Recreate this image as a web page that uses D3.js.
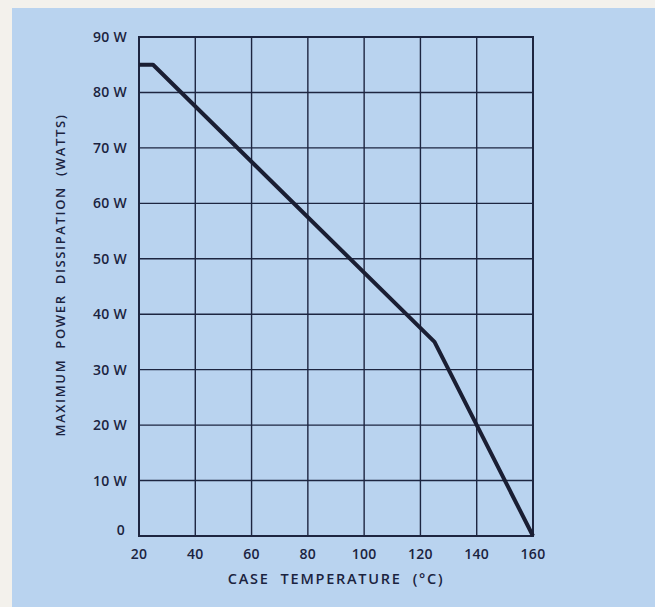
<!DOCTYPE html>
<html>
<head>
<meta charset="utf-8">
<script src="https://cdn.jsdelivr.net/npm/d3@7"></script>
<style>
  html, body { margin: 0; padding: 0; background: #f3f1ec; }
  svg { display: block; }
  text { font-family: "Open Sans", Lato, sans-serif; font-weight: 600; fill: #1b2340; }
</style>
</head>
<body>
<div id="chart"></div>
<script>
// derating curve
var temps = [20, 25, 125, 160]
var watts = [85, 85, 35, 0]

var xTicks = [20, 40, 60, 80, 100, 120, 140, 160]
var yTicks = [0, 10, 20, 30, 40, 50, 60, 70, 80, 90]
var yTickLabels = ['0', '10 W', '20 W', '30 W', '40 W', '50 W', '60 W', '70 W', '80 W', '90 W']

var xTitle = 'CASE  TEMPERATURE  (°C)'
var yTitle = 'MAXIMUM  POWER  DISSIPATION  (WATTS)'

var width = 655, height = 607
var margin = {left: 139, right: 122, top: 37, bottom: 71}
var ink = '#1d2540'

var svg = d3.select('#chart').append('svg')
  .attr('width', width)
  .attr('height', height)

// blue card
svg.append('rect')
  .attr('x', 12).attr('y', 8)
  .attr('width', width - 12).attr('height', height - 8)
  .attr('fill', '#b9d3ef')

var x = d3.scaleLinear().domain([20, 160]).range([margin.left, width - margin.right])
var y = d3.scaleLinear().domain([0, 90]).range([height - margin.bottom, margin.top])

// grid
var grid = svg.append('g').attr('stroke', ink).attr('stroke-width', 1.4)
grid.selectAll('line.v').data(xTicks).enter().append('line')
  .attr('class', 'v')
  .attr('x1', d => x(d)).attr('x2', d => x(d))
  .attr('y1', y(0)).attr('y2', y(90))
grid.selectAll('line.h').data(yTicks).enter().append('line')
  .attr('class', 'h')
  .attr('x1', x(20)).attr('x2', x(160))
  .attr('y1', d => y(d)).attr('y2', d => y(d))

// frame a bit heavier
svg.append('rect')
  .attr('x', x(20)).attr('y', y(90))
  .attr('width', x(160) - x(20)).attr('height', y(0) - y(90))
  .attr('fill', 'none').attr('stroke', ink).attr('stroke-width', 2)

// curve
var pts = temps.map((t, i) => ({t: t, w: watts[i]}))
var line = d3.line().x(d => x(d.t)).y(d => y(d.w))
svg.append('path')
  .attr('d', line(pts))
  .attr('fill', 'none')
  .attr('stroke', '#1a1e33')
  .attr('stroke-width', 4)
  .attr('stroke-linejoin', 'round')

// y tick labels
svg.selectAll('text.ylab').data(yTicks).enter().append('text')
  .attr('class', 'ylab')
  .attr('x', d => d == 0 ? x(20) - 14 : x(20) - 12)
  .attr('y', d => d == 0 ? y(d) - 1 : y(d) + 5)
  .attr('text-anchor', 'end')
  .style('font-size', '14px')
  .style('letter-spacing', '0.3px')
  .text((d, i) => yTickLabels[i])

// x tick labels
svg.selectAll('text.xlab').data(xTicks).enter().append('text')
  .attr('class', 'xlab')
  .attr('x', d => x(d))
  .attr('y', y(0) + 23)
  .attr('text-anchor', 'middle')
  .style('font-size', '14px')
  .style('letter-spacing', '0.3px')
  .text(d => d)

// axis titles
svg.append('text')
  .attr('x', (x(20) + x(160)) / 2)
  .attr('y', 584)
  .attr('text-anchor', 'middle')
  .style('font-size', '14.5px')
  .style('letter-spacing', '1.75px')
  .style('white-space', 'pre')
  .text(xTitle)

svg.append('text')
  .attr('transform', 'translate(65,275) rotate(-90)')
  .attr('text-anchor', 'middle')
  .style('font-size', '13px')
  .style('letter-spacing', '1.65px')
  .style('white-space', 'pre')
  .text(yTitle)
</script>
</body>
</html>
